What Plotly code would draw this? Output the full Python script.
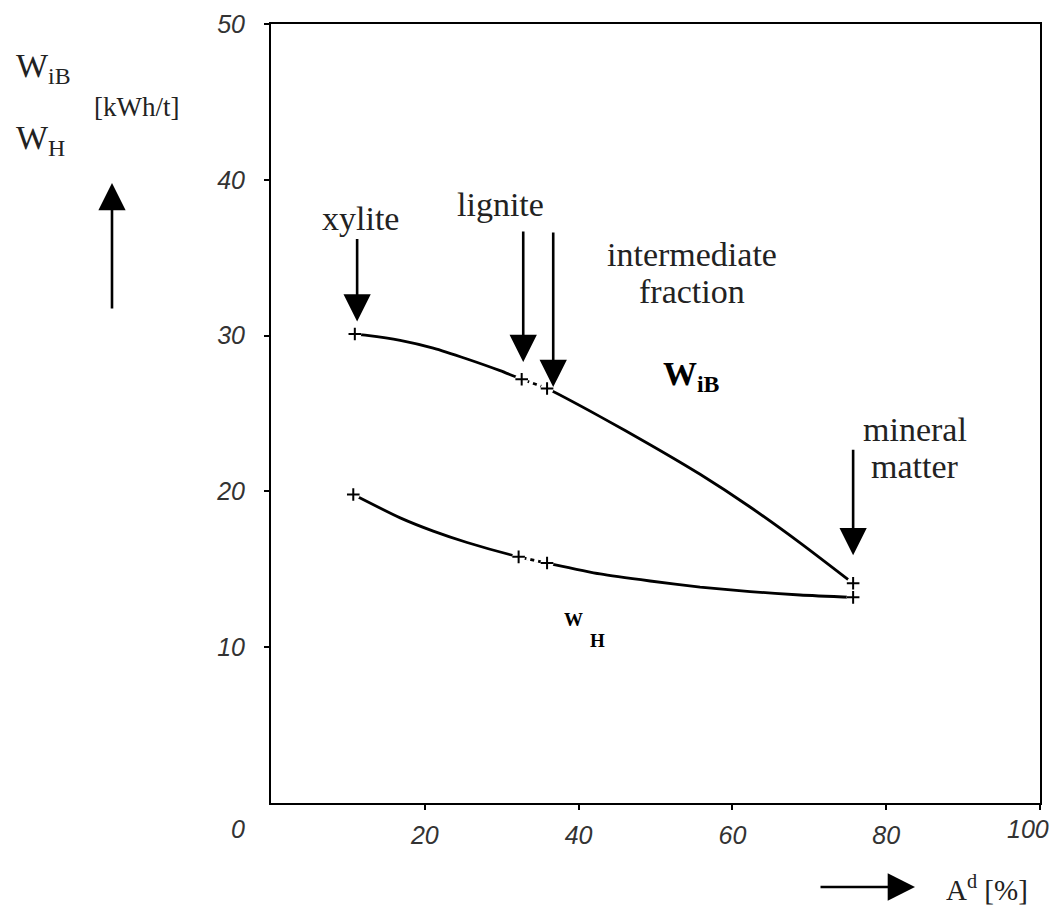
import plotly.graph_objects as go

ash = [10.9, 32.6, 35.9, 75.7]            # A^d [%]
w_ib = [30.1, 27.2, 26.6, 14.1]           # W_iB [kWh/t]
ash_h = [10.7, 32.2, 35.9, 75.7]
w_h = [19.8, 15.8, 15.4, 13.2]            # W_H [kWh/t]

# Points
curve_ib_x = [10.9, 12.5, 16.8, 21.1, 25.5, 29.8, 32.6, 35.9, 42.8, 49.3, 55.8, 62.3, 68.8, 75.7]
curve_ib_y = [30.1, 30.02, 29.7, 29.2, 28.5, 27.75, 27.2, 26.6, 24.8, 23.0, 21.1, 19.0, 16.7, 14.1]
curve_h_x = [10.7, 16.8, 21.1, 25.5, 32.2, 35.9, 42.8, 49.3, 55.8, 62.3, 68.8, 75.7]
curve_h_y = [19.8, 18.3, 17.45, 16.72, 15.8, 15.4, 14.7, 14.25, 13.86, 13.57, 13.35, 13.2]

x_ticks = [20, 40, 60, 80, 100]
x_tick_labels = ["20", "40", "60", "80", ""]
y_ticks = [10, 20, 30, 40, 50]

SERIF = "Liberation Serif"
TICKFONT = dict(family="Liberation Sans", size=25, style="italic", color="#333")
fig = go.Figure()

for cx, cy, xs, ys in [(curve_ib_x, curve_ib_y, ash, w_ib), (curve_h_x, curve_h_y, ash_h, w_h)]:
    fig.add_trace(go.Scatter(x=cx, y=cy, mode="lines",
                             line=dict(color="black", width=2.8, shape="spline", smoothing=0.6),
                             hoverinfo="skip", showlegend=False))
    # dashed look between the two lignite points
    fig.add_trace(go.Scatter(x=xs[1:3], y=ys[1:3], mode="lines",
                             line=dict(color="white", width=4, dash="4px,4px"),
                             hoverinfo="skip", showlegend=False))
    fig.add_trace(go.Scatter(x=xs, y=ys, mode="markers",
                             marker=dict(symbol="circle", size=13, color="white"),
                             hoverinfo="skip", showlegend=False))
    fig.add_trace(go.Scatter(x=xs, y=ys, mode="markers",
                             marker=dict(symbol="cross-thin", size=9,
                                         line=dict(color="black", width=2)),
                             hoverinfo="skip", showlegend=False))

arrow_style = dict(showarrow=True, arrowhead=2, arrowwidth=2.6, arrowsize=2.1,
                   arrowcolor="black", axref="pixel", ayref="pixel", text="")

# pointing arrows (tip at data position)
fig.add_annotation(x=11.2, y=30.9, ax=0, ay=-84, **arrow_style)
fig.add_annotation(x=32.8, y=28.3, ax=0, ay=-132, **arrow_style)
fig.add_annotation(x=36.7, y=26.7, ax=0, ay=-156, **arrow_style)
fig.add_annotation(x=75.7, y=15.9, ax=0, ay=-107, **arrow_style)

txt = dict(showarrow=False, font=dict(family=SERIF, size=34, color="#222"))
fig.add_annotation(x=11.6, y=37.5, text="xylite", **txt)
fig.add_annotation(x=29.8, y=38.4, text="lignite", **txt)
fig.add_annotation(x=54.7, y=35.2, text="intermediate", **txt)
fig.add_annotation(x=54.7, y=32.8, text="fraction", **txt)
fig.add_annotation(x=83.7, y=24.0, text="mineral", **txt)
fig.add_annotation(x=83.7, y=21.6, text="matter", **txt)
fig.add_annotation(x=54.7, y=27.4, text="<b>W</b><sub><b>iB</b></sub>",
                   showarrow=False, font=dict(family=SERIF, size=34, color="black"))
fig.add_annotation(x=39.4, y=11.8, text="<b>W</b>",
                   showarrow=False, font=dict(family=SERIF, size=19, color="black"))
fig.add_annotation(x=42.4, y=10.4, text="<b>H</b>",
                   showarrow=False, font=dict(family=SERIF, size=19, color="black"))

# axis labels (left / bottom, in paper coordinates)
def px(x):
    return (x - 271) / 769

def py(y):
    return (803 - y) / 779

ptxt = dict(xref="paper", yref="paper", xanchor="left", yanchor="middle", showarrow=False)
fig.add_annotation(x=px(14), y=py(68), text="W<sub>iB</sub>",
                   font=dict(family=SERIF, size=34, color="#222"), **ptxt)
fig.add_annotation(x=px(92), y=py(107), text="[kWh/t]",
                   font=dict(family=SERIF, size=27, color="#222"), **ptxt)
fig.add_annotation(x=px(14), y=py(140), text="W<sub>H</sub>",
                   font=dict(family=SERIF, size=34, color="#222"), **ptxt)
fig.add_annotation(x=px(944), y=py(888), text="A<sup>d</sup> [%]",
                   font=dict(family=SERIF, size=29, color="#222"), **ptxt)
fig.add_annotation(xref="paper", yref="paper", x=px(112), y=py(183),
                   ax=0, ay=127, **arrow_style)
fig.add_annotation(xref="paper", yref="paper", x=px(915), y=py(887),
                   ax=-96, ay=0, **arrow_style)

# origin and end labels of the x axis (placed like in the reference)
fig.add_annotation(x=0, y=0, xshift=-33, yshift=-26, text="0", showarrow=False,
                   font=TICKFONT)
fig.add_annotation(x=100, y=0, xshift=-12, yshift=-26, text="100", showarrow=False,
                   font=TICKFONT)

axis_common = dict(showgrid=False, zeroline=False, showline=True, linecolor="black",
                   linewidth=2, mirror=True, ticks="outside", ticklen=5, tickwidth=2,
                   tickcolor="black", tickfont=TICKFONT)

fig.update_xaxes(range=[0, 100], tickvals=x_ticks, ticktext=x_tick_labels,
                 ticklabelstandoff=4, **axis_common)
fig.update_yaxes(range=[0, 50], tickvals=y_ticks, ticklabelstandoff=14, **axis_common)

fig.update_layout(width=1058, height=905, plot_bgcolor="white", paper_bgcolor="white",
                  margin=dict(l=271, r=18, t=24, b=102, autoexpand=False), showlegend=False)

fig.write_html("out.html")
